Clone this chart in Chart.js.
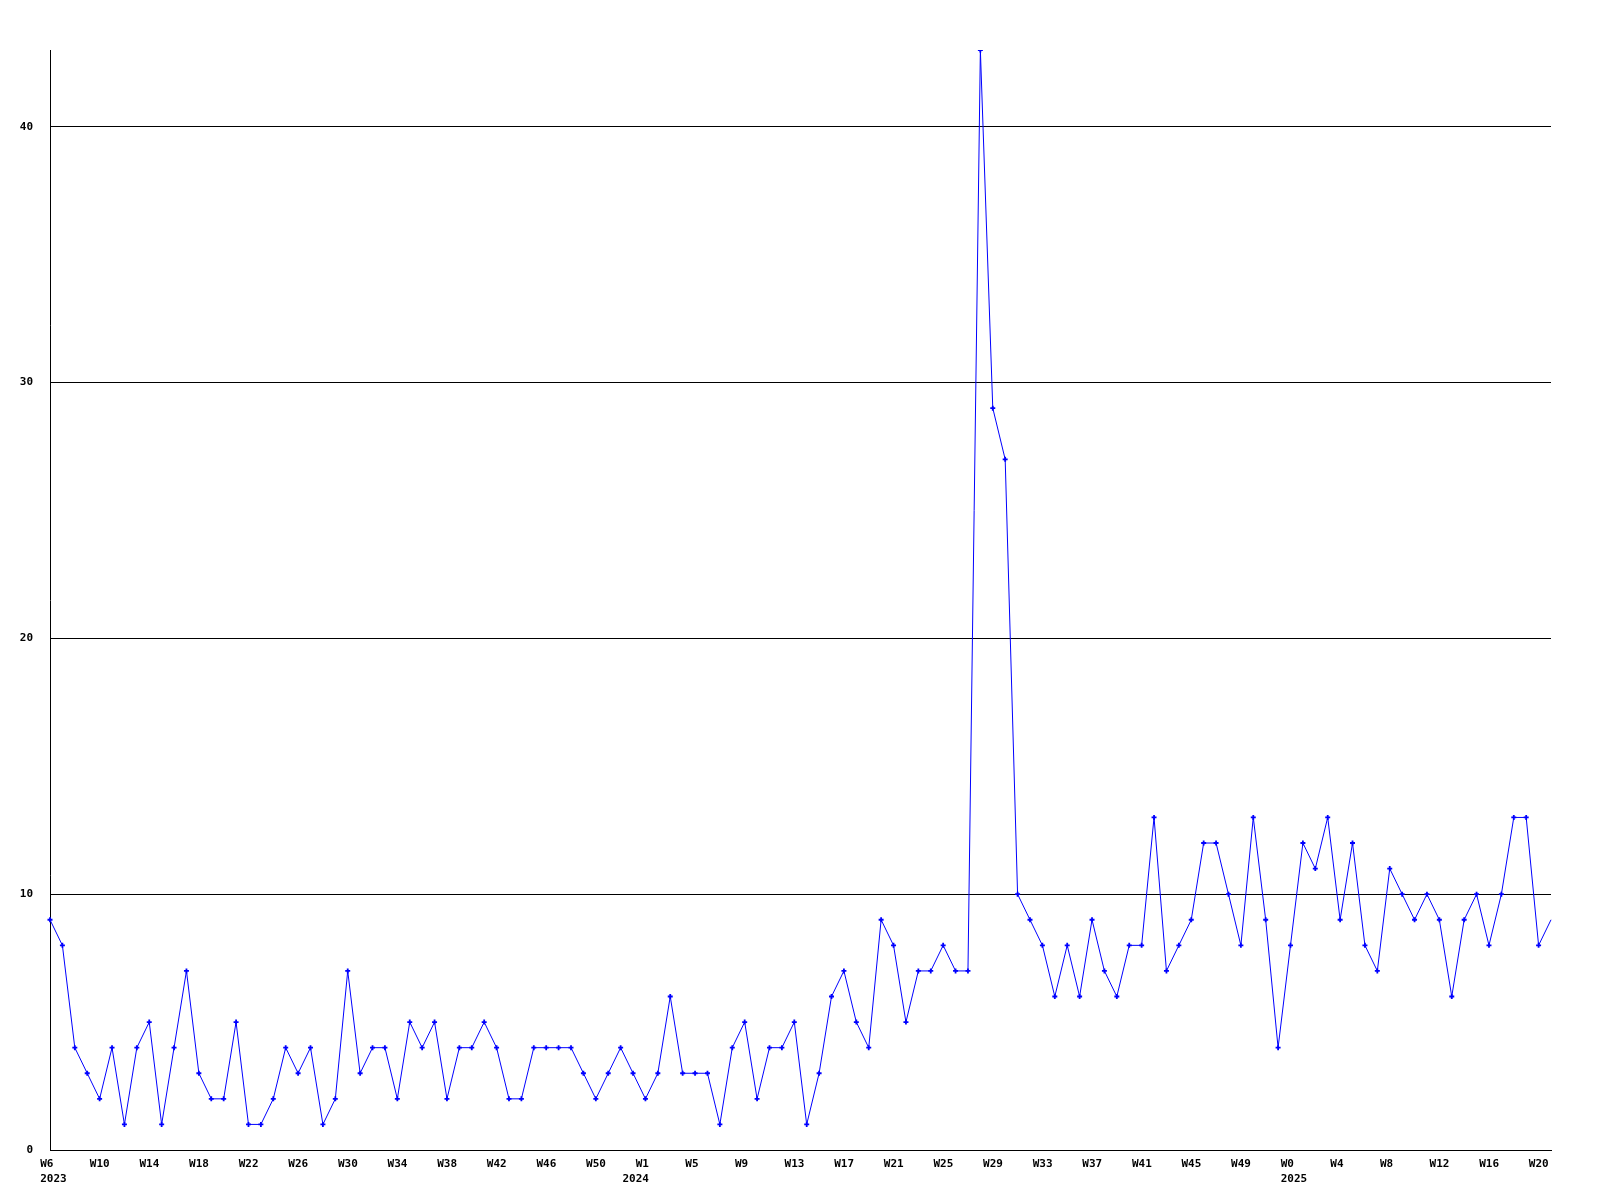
<!DOCTYPE html>
<html>
<head>
<meta charset="utf-8">
<script src="https://cdn.jsdelivr.net/npm/chart.js@4"></script>
<style>
  html, body { margin: 0; padding: 0; background: #ffffff; }
  #wrap { width: 1600px; height: 1200px; }
</style>
</head>
<body>
<div id="wrap"><canvas id="c" width="1600" height="1200"></canvas></div>
<script>
// Week labels per year (one entry per weekly data point)
const weeks2023 = ["W6","W7","W8","W9","W10","W11","W12","W13","W14","W15","W16","W17","W18","W19","W20","W21","W22","W23","W24","W25","W26","W27","W28","W29","W30","W31","W32","W33","W34","W35","W36","W37","W38","W39","W40","W41","W42","W43","W44","W45","W46","W47","W48","W49","W50","W51","W52","W53"];
const weeks2024 = ["W1","W2","W3","W4","W5","W6","W7","W8","W9","W10","W11","W12","W13","W14","W15","W16","W17","W18","W19","W20","W21","W22","W23","W24","W25","W26","W27","W28","W29","W30","W31","W32","W33","W34","W35","W36","W37","W38","W39","W40","W41","W42","W43","W44","W45","W46","W47","W48","W49","W50","W51","W52"];
const weeks2025 = ["W0","W1","W2","W3","W4","W5","W6","W7","W8","W9","W10","W11","W12","W13","W14","W15","W16","W17","W18","W19","W20","W21"];
const years = ["2023", "2024", "2025"];

// Weekly values
const values2023 = [9,8,4,3,2,4,1,4,5,1, 4,7,3,2,2,5,1,1,2,4, 3,4,1,2,7,3,4,4,2,5, 4,5,2,4,4,5,4,2,2,4, 4,4,4,3,2,3,4,3];
const values2024 = [2,3,6,3,3,3,1,4,5,2, 4,4,5,1,3,6,7,5,4,9, 8,5,7,7,8,7,7,43,29,27, 10,9,8,6,8,6,9,7,6,8, 8,13,7,8,9,12,12,10,8,13, 9,4];
const values2025 = [8,12,11,13,9,12,8,7,11,10, 9,10,9,6,9,10,8,10,13,13, 8,9];

// Y-axis tick values
const yTicks = [0, 10, 20, 30, 40];

const labels = [...weeks2023, ...weeks2024, ...weeks2025];
const values = [...values2023, ...values2024, ...values2025];
const yearStarts = {};
yearStarts[0] = years[0];
yearStarts[weeks2023.length] = years[1];
yearStarts[weeks2023.length + weeks2024.length] = years[2];
// the 2024 year caption sits two characters further left than the others
const yearPad = { "2023": "  ", "2024": "", "2025": "  " };

const FONT = { family: "'DejaVu Sans Mono', monospace", size: 11, weight: 'bold', lineHeight: 1.36 };

new Chart(document.getElementById('c'), {
  type: 'line',
  data: {
    labels: labels,
    datasets: [{
      data: values,
      borderColor: '#0000ff',
      backgroundColor: '#0000ff',
      borderWidth: 1,
      tension: 0,
      fill: false,
      pointStyle: 'cross',
      pointRadius: (ctx) => ctx.dataIndex === values.length - 1 ? 0 : 2.5,
      pointBorderWidth: 1.8,
      pointBorderColor: '#0000ff',
      pointHoverRadius: 0
    }]
  },
  options: {
    responsive: false,
    animation: false,
    devicePixelRatio: 1,
    layout: { padding: { top: 50, right: 49, left: 0, bottom: 0 } },
    plugins: { legend: { display: false }, tooltip: { enabled: false } },
    scales: {
      x: {
        type: 'category',
        offset: false,
        grid: { display: false, drawTicks: false },
        border: { display: true, color: '#000000', width: 1 },
        ticks: {
          autoSkip: false,
          maxRotation: 0,
          minRotation: 0,
          align: 'start',
          labelOffset: -23,
          padding: 7,
          color: '#000000',
          font: FONT,
          callback: function(val, i) {
            if (i % 4 !== 0) return '';
            const w = '  ' + labels[i];
            const y = yearStarts[i];
            if (y !== undefined) return [w, yearPad[y] + y];
            return w;
          }
        },
        afterFit: (s) => { s.height = 50; }
      },
      y: {
        min: 0,
        max: Math.max(...values),
        grid: { display: true, color: '#000000', lineWidth: 1, drawTicks: false },
        border: { display: true, color: '#000000', width: 1 },
        afterBuildTicks: (s) => { s.ticks = yTicks.map(v => ({ value: v })); },
        ticks: {
          includeBounds: false,
          padding: 17,
          color: '#000000',
          font: FONT
        },
        afterFit: (s) => { s.width = 50; }
      }
    }
  }
});
</script>
</body>
</html>
